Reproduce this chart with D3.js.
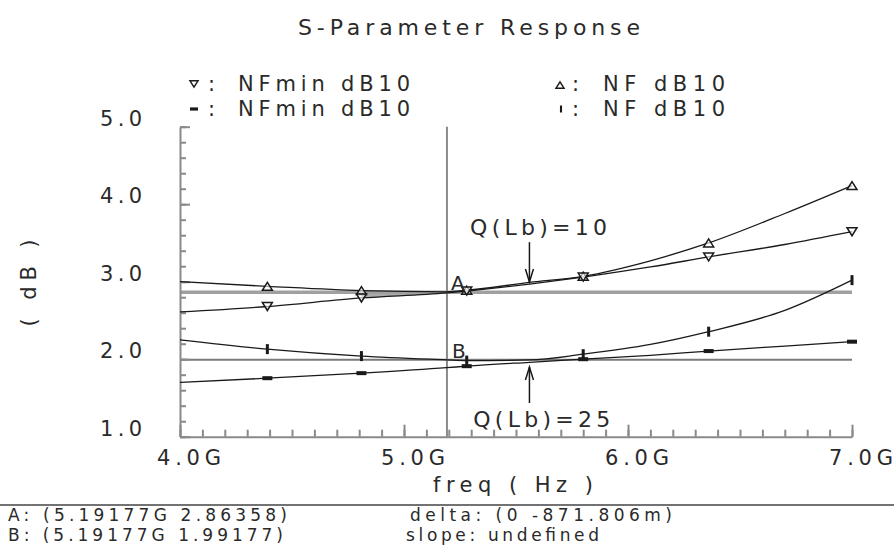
<!DOCTYPE html>
<html><head><meta charset="utf-8">
<script src="https://cdn.jsdelivr.net/npm/d3@7"></script>
<style>
body{margin:0;background:#fff}
text{font-family:'DejaVu Sans',Roboto,sans-serif;fill:#2a2a2a}
</style>
</head><body>
<svg id="c" width="894" height="553"></svg>
<script>
// ---- data ----
const freqs   = [4.0, 4.39, 4.81, 5.19, 5.28, 5.56, 5.8, 6.1, 6.36, 6.7, 7.0];
const nfQ10    = [3.00, 2.94, 2.885, 2.87, 2.89, 2.99, 3.07, 3.27, 3.50, 3.88, 4.24];
const nfminQ10 = [2.61, 2.68, 2.79, 2.855, 2.88, 2.97, 3.06, 3.19, 3.32, 3.48, 3.645];
const nfQ25    = [2.25, 2.13, 2.04, 1.992, 1.982, 1.99, 2.065, 2.19, 2.355, 2.63, 3.02];
const nfminQ25 = [1.70, 1.755, 1.82, 1.89, 1.91, 1.96, 2.00, 2.05, 2.105, 2.17, 2.226];
const markerFreqs = [4.39, 4.81, 5.28, 5.8, 6.36, 7.0];
const cursorFreq = 5.19177;
const markerAValue = 2.86358;
const markerBValue = 1.99177;
const xTickValues = [4, 5, 6, 7];
const xTickLabels = ["4.0G", "5.0G", "6.0G", "7.0G"];
const yTickValues = [1, 2, 3, 4, 5];
const yTickLabels = ["1.0", "2.0", "3.0", "4.0", "5.0"];
const legendLeft  = ["NFmin dB10", "NFmin dB10"];
const legendRight = ["NF dB10", "NF dB10"];
const titleText = "S-Parameter Response";
const xTitle = "freq ( Hz )";
const yTitle = "( dB )";
const infoLines = ["A: (5.19177G 2.86358)", "B: (5.19177G 1.99177)"];
const deltaLines = ["delta: (0 -871.806m)", "slope: undefined"];
const annotations = [
  {label: "Q(Lb)=10", freq: 5.56, tip: 2.996, tail: 3.51, textFreq: 5.295, textVal: 3.60},
  {label: "Q(Lb)=25", freq: 5.56, tip: 1.90, tail: 1.435, textFreq: 5.309, textVal: 1.125}
];

// ---- scales ----
const svg = d3.select("#c");
const x = d3.scaleLinear().domain([4, 7]).range([180, 852]);
const y = d3.scaleLinear().domain([1, 5]).range([436.7, 126.7]);

const series = [
  {vals: nfQ10, shape: "up"},
  {vals: nfminQ10, shape: "down"},
  {vals: nfQ25, shape: "vbar"},
  {vals: nfminQ25, shape: "hbar"}
];
const pts = v => freqs.map((f, i) => ({f, v: v[i]}));

// gray fill between Q10 curves near cursor
const fillPts = freqs.map((f, i) => ({f, a: nfQ10[i], b: nfminQ10[i]}))
  .filter(d => d.f >= 4.81 && d.f <= cursorFreq + 1e-9);
svg.append("path")
  .attr("d", d3.area().x(d => x(d.f)).y0(d => y(d.b)).y1(d => y(d.a)).curve(d3.curveMonotoneX)(fillPts))
  .attr("fill", "#aaaaaa");

// marker horizontal lines A / B
svg.append("line").attr("x1", x(4)).attr("x2", x(7))
  .attr("y1", y(markerAValue)).attr("y2", y(markerAValue))
  .attr("stroke", "#a0a0a0").attr("stroke-width", 3.5);
svg.append("line").attr("x1", x(4)).attr("x2", x(7))
  .attr("y1", y(markerBValue)).attr("y2", y(markerBValue))
  .attr("stroke", "#7a7a7a").attr("stroke-width", 2);
// cursor
svg.append("line").attr("x1", x(cursorFreq)).attr("x2", x(cursorFreq))
  .attr("y1", y(5)).attr("y2", y(1))
  .attr("stroke", "#8a8a8a").attr("stroke-width", 2);

// axes
const axStyle = g => { g.selectAll("path,line").attr("stroke", "#8a8a8a").attr("stroke-width", 2); g.selectAll("text").remove(); };
svg.append("g").attr("transform", `translate(0,${y(1)})`)
  .call(d3.axisBottom(x).tickValues(d3.range(4, 7.001, 0.1)).tickSize(-7).tickSizeOuter(0).tickFormat(""))
  .call(axStyle);
svg.append("g").attr("transform", `translate(0,${y(1)})`)
  .call(d3.axisBottom(x).tickValues(xTickValues).tickSize(-12).tickSizeOuter(0).tickFormat(""))
  .call(axStyle).call(g => g.select(".domain").remove());
svg.append("g").attr("transform", `translate(${x(4)},0)`)
  .call(d3.axisLeft(y).tickValues(d3.range(1, 5.001, 0.2)).tickSize(-6).tickSizeOuter(0).tickFormat(""))
  .call(axStyle);
svg.append("g").attr("transform", `translate(${x(4)},0)`)
  .call(d3.axisLeft(y).tickValues(yTickValues).tickSize(-10).tickSizeOuter(0).tickFormat(""))
  .call(axStyle).call(g => g.select(".domain").remove());

// curves
const line = d3.line().x(d => x(d.f)).y(d => y(d.v)).curve(d3.curveMonotoneX);
series.forEach(s => {
  svg.append("path").attr("d", line(pts(s.vals)))
    .attr("fill", "none").attr("stroke", "#1a1a1a").attr("stroke-width", 1.3);
});

// marker shapes
function drawShape(g, shape, cx, cy, sc) {
  sc = sc || 1;
  if (shape === "up" || shape === "down") {
    const h = 8 * sc, w = 10 * sc, s = shape === "up" ? 1 : -1;
    const p = `M${cx - w/2},${cy + s*h/2}L${cx + w/2},${cy + s*h/2}L${cx},${cy - s*h/2}Z`;
    g.append("path").attr("d", p).attr("fill", "#fff").attr("fill-opacity", 0.6)
      .attr("stroke", "#1a1a1a").attr("stroke-width", 1.5);
  } else if (shape === "vbar") {
    g.append("rect").attr("x", cx - 1.5*sc).attr("y", cy - 5*sc).attr("width", 3*sc).attr("height", 10*sc).attr("fill", "#1a1a1a");
  } else {
    g.append("rect").attr("x", cx - 5*sc).attr("y", cy - 2*sc).attr("width", 10*sc).attr("height", 4*sc).attr("fill", "#1a1a1a");
  }
}
const mg = svg.append("g");
series.forEach(s => {
  pts(s.vals).filter(d => markerFreqs.some(m => Math.abs(m - d.f) < 1e-6))
    .forEach(d => drawShape(mg, s.shape, x(d.f), y(d.v)));
});

// text helper
function txt(str, xx, yy, size, len, anchor) {
  const t = svg.append("text").attr("x", xx).attr("y", yy).attr("font-size", size).text(str);
  if (anchor) t.attr("text-anchor", anchor);
  if (len) t.attr("textLength", len).attr("lengthAdjust", "spacing");
  return t;
}

// title
txt(titleText, 298, 35, 22, 342);

// legend
const lg = svg.append("g");
drawShape(lg, "down", 194, 84, 0.8);
drawShape(lg, "hbar", 194, 109, 0.8);
drawShape(lg, "up", 560, 85, 0.8);
drawShape(lg, "vbar", 561, 109, 0.7);
txt(":", 208, 91, 21); txt(":", 208, 116, 21);
txt(":", 572, 91, 21); txt(":", 572, 116, 21);
txt(legendLeft[0], 238, 91, 21, 172);
txt(legendLeft[1], 238, 116, 21, 172);
txt(legendRight[0], 603, 91, 21, 122);
txt(legendRight[1], 603, 116, 21, 122);

// tick labels
yTickValues.forEach((v, i) => txt(yTickLabels[i], 142, y(v) - 1, 21, 42, "end"));
xTickValues.forEach((v, i) => txt(xTickLabels[i], x(v) + 9, 465, 21, 64, "middle"));

// axis titles
txt(xTitle, 513, 492, 21, 160, "middle");
svg.append("text").attr("transform", `translate(36,283) rotate(-90)`)
  .attr("text-anchor", "middle").attr("font-size", 21)
  .attr("textLength", 87).attr("lengthAdjust", "spacing").text(yTitle);

// A / B labels
txt("A", x(cursorFreq) + 4, y(markerAValue) - 2, 20);
txt("B", x(cursorFreq) + 5, y(markerBValue) - 2, 20);

// annotations with arrows
annotations.forEach(a => {
  const ax = x(a.freq), y1 = y(a.tail), y2 = y(a.tip);
  const dir = y2 > y1 ? 1 : -1;
  svg.append("line").attr("x1", ax).attr("x2", ax).attr("y1", y1).attr("y2", y2)
    .attr("stroke", "#1a1a1a").attr("stroke-width", 1.5);
  svg.append("path").attr("d", `M${ax - 4},${y2 - dir*13}L${ax},${y2}L${ax + 4},${y2 - dir*13}`)
    .attr("fill", "none").attr("stroke", "#1a1a1a").attr("stroke-width", 1.5);
  txt(a.label, x(a.textFreq), y(a.textVal), 22, 137);
});

// bottom info
svg.append("line").attr("x1", 0).attr("x2", 894).attr("y1", 505).attr("y2", 505)
  .attr("stroke", "#444").attr("stroke-width", 1.5);
txt(infoLines[0], 8, 521, 17, 279);
txt(infoLines[1], 8, 541, 17, 275);
txt(deltaLines[0], 410, 521, 17, 262);
txt(deltaLines[1], 406, 541, 17, 193);
</script>
</body></html>
